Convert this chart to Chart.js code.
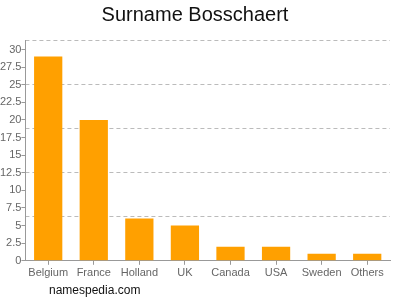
<!DOCTYPE html>
<html>
<head>
<meta charset="utf-8">
<script src="https://cdn.jsdelivr.net/npm/chart.js@4"></script>
<style>
  html, body { margin: 0; padding: 0; background: #fff; }
  #wrap { position: relative; width: 400px; height: 300px; }
  #footer { position: absolute; left: 49px; top: 283px; font: 12px "Liberation Sans", Arial, sans-serif; color: #111; }
</style>
</head>
<body>
<div id="wrap">
  <canvas id="chart" width="400" height="300"></canvas>
  <div id="footer">namespedia.com</div>
</div>
<script>
var countries = ['Belgium', 'France', 'Holland', 'UK', 'Canada', 'USA', 'Sweden', 'Others'];
var counts = [29, 20, 6, 5, 2, 2, 1, 1];
var yMax = 31.35;
var yStep = 2.5;

Chart.defaults.font.family = '"Liberation Sans", Arial, sans-serif';

new Chart(document.getElementById('chart'), {
    type: 'bar',
    data: {
        labels: countries,
        datasets: [{
            data: counts,
            backgroundColor: '#ffa000',
            barPercentage: 0.62,
            categoryPercentage: 1
        }]
    },
    options: {
        responsive: false,
        animation: false,
        layout: { padding: { left: 0, right: 10, bottom: 18 } },
        plugins: {
            legend: { display: false },
            tooltip: { enabled: false },
            title: {
                display: true,
                text: 'Surname Bosschaert',
                color: '#111',
                font: { size: 20, weight: 'normal' },
                padding: { top: 3, bottom: 13 }
            }
        },
        scales: {
            x: {
                grid: { drawOnChartArea: false, offset: false, tickLength: 4, color: '#999' },
                border: { color: '#999' },
                ticks: { color: '#666', font: { size: 11 }, padding: 2, maxRotation: 0, autoSkip: false }
            },
            y: {
                min: 0,
                max: yMax,
                grid: { drawOnChartArea: false, tickLength: 4, color: '#999' },
                border: { color: '#999' },
                ticks: { stepSize: yStep, includeBounds: false, color: '#666', font: { size: 11 }, padding: 0 }
            },
            y2: {
                position: 'right',
                min: 0,
                max: 5,
                ticks: { display: false, stepSize: 1 },
                grid: { color: '#bbb', drawTicks: false, tickLength: 0 },
                border: { display: false, dash: [4, 3] }
            }
        }
    }
});
</script>
</body>
</html>
